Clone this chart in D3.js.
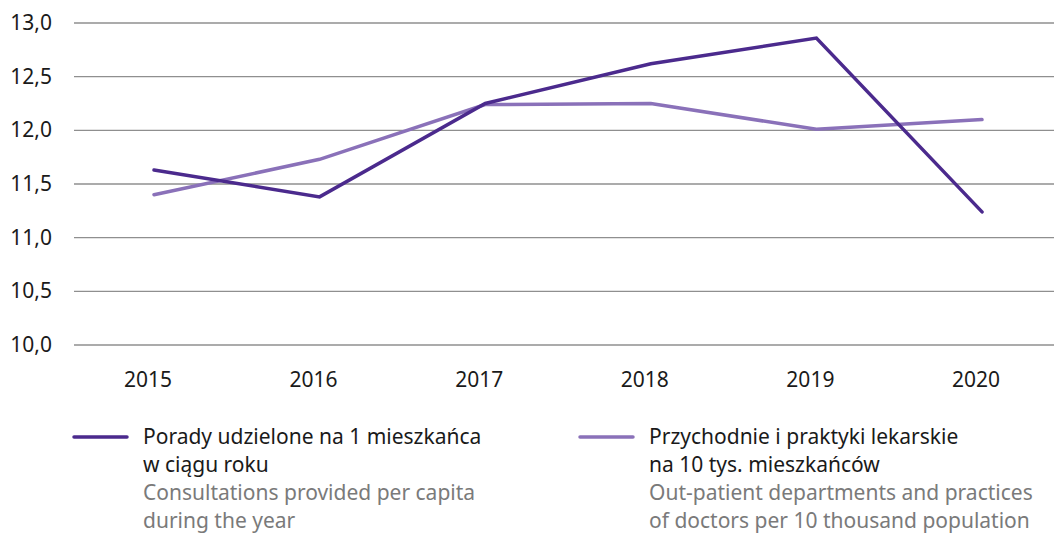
<!DOCTYPE html>
<html>
<head>
<meta charset="utf-8">
<script src="https://cdn.jsdelivr.net/npm/d3@7"></script>
<style>
  body { margin: 0; background: #fff; }
  svg { display: block; font-family: "Noto Sans", "Open Sans", sans-serif; }
</style>
</head>
<body>
<script>
/*** data ***/
const years = ["2015", "2016", "2017", "2018", "2019", "2020"];
const consultations = [11.63, 11.38, 12.25, 12.62, 12.86, 11.24];   // per capita
const practices = [11.40, 11.73, 12.24, 12.25, 12.01, 12.10];       // per 10k population
const yTicks = [10, 10.5, 11, 11.5, 12, 12.5, 13];

const legendItems = [
  { color: "#4b2a8d", pl: ["Porady udzielone na 1 mieszkańca", "w ciągu roku"],
    en: ["Consultations provided per capita", "during the year"] },
  { color: "#8a71b9", pl: ["Przychodnie i praktyki lekarskie", "na 10 tys. mieszkańców"],
    en: ["Out-patient departments and practices", "of doctors per 10 thousand population"] }
];

/*** setup ***/
const width = 1054, height = 535;
const gridLeft = 74, gridRight = 1054;

const svg = d3.select("body").append("svg")
  .attr("width", width)
  .attr("height", height);

const x = d3.scalePoint().domain(years).range([154, 982]);
const y = d3.scaleLinear().domain([10, 13]).range([345, 23]);

// gridlines
svg.append("g")
  .selectAll("line")
  .data(yTicks)
  .join("line")
  .attr("x1", gridLeft).attr("x2", gridRight)
  .attr("y1", d => y(d)).attr("y2", d => y(d))
  .attr("stroke", "#8f8f8f")
  .attr("stroke-width", 1.4);

// y labels
const fmt = d => d3.format(".1f")(d).replace(".", ",");
svg.append("g")
  .selectAll("text")
  .data(yTicks)
  .join("text")
  .attr("x", 52)
  .attr("y", d => y(d) + 7)
  .attr("text-anchor", "end")
  .attr("font-size", 21)
  .attr("fill", "#1a1a1a")
  .text(fmt);

// x labels
svg.append("g")
  .selectAll("text")
  .data(years)
  .join("text")
  .attr("x", d => x(d) - 6)
  .attr("y", 387)
  .attr("text-anchor", "middle")
  .attr("font-size", 21)
  .attr("fill", "#1a1a1a")
  .text(d => d);

// lines
const line = d3.line()
  .x((d, i) => x(years[i]))
  .y(d => y(d));

// lighter series drawn first, darker on top
svg.append("path")
  .datum(practices)
  .attr("d", line)
  .attr("fill", "none")
  .attr("stroke", legendItems[1].color)
  .attr("stroke-width", 3.5)
  .attr("stroke-linecap", "round");

svg.append("path")
  .datum(consultations)
  .attr("d", line)
  .attr("fill", "none")
  .attr("stroke", legendItems[0].color)
  .attr("stroke-width", 3.5)
  .attr("stroke-linecap", "round");

// legend
const legendX = [74, 580];
const lg = svg.append("g")
  .selectAll("g")
  .data(legendItems)
  .join("g")
  .attr("transform", (d, i) => `translate(${legendX[i]},0)`);

lg.append("line")
  .attr("x1", 0).attr("x2", 53)
  .attr("y1", 437).attr("y2", 437)
  .attr("stroke", d => d.color)
  .attr("stroke-width", 3.5)
  .attr("stroke-linecap", "round");

lg.each(function(d) {
  const g = d3.select(this);
  const rows = d.pl.map(t => ({ t, c: "#1a1a1a" }))
    .concat(d.en.map(t => ({ t, c: "#7a7a7a" })));
  g.selectAll("text")
    .data(rows)
    .join("text")
    .attr("x", 69)
    .attr("y", (r, i) => 444 + i * 28)
    .attr("font-size", 21)
    .attr("fill", r => r.c)
    .text(r => r.t);
});
</script>
</body>
</html>
